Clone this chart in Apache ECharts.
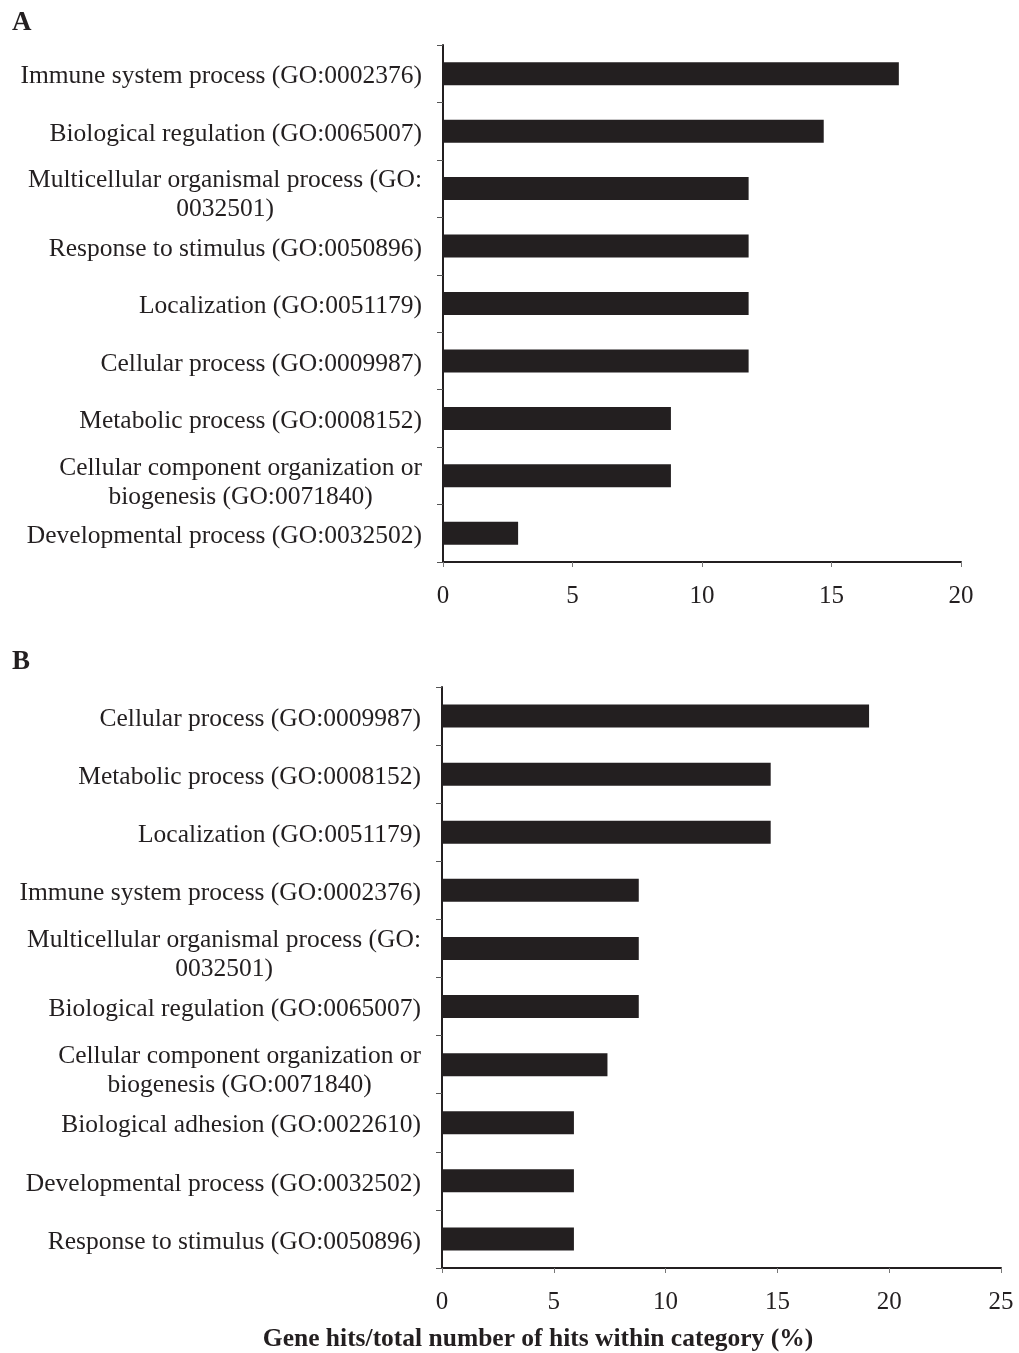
<!DOCTYPE html>
<html>
<head>
<meta charset="utf-8">
<script src="https://cdn.jsdelivr.net/npm/echarts@6/dist/echarts.min.js"></script>
<style>
html,body{margin:0;padding:0;background:#fff;}
#chart{width:1019px;height:1353px;}
</style>
</head>
<body>
<div id="chart"></div>
<script>
// Panel A
var categoriesA = [
  'Immune system process (GO:0002376)',
  'Biological regulation (GO:0065007)',
  'Multicellular organismal process (GO:\n0032501)',
  'Response to stimulus (GO:0050896)',
  'Localization (GO:0051179)',
  'Cellular process (GO:0009987)',
  'Metabolic process (GO:0008152)',
  'Cellular component organization or\nbiogenesis (GO:0071840)',
  'Developmental process (GO:0032502)'
];
var valuesA = [17.6, 14.7, 11.8, 11.8, 11.8, 11.8, 8.8, 8.8, 2.9];

// Panel B
var categoriesB = [
  'Cellular process (GO:0009987)',
  'Metabolic process (GO:0008152)',
  'Localization (GO:0051179)',
  'Immune system process (GO:0002376)',
  'Multicellular organismal process (GO:\n0032501)',
  'Biological regulation (GO:0065007)',
  'Cellular component organization or\nbiogenesis (GO:0071840)',
  'Biological adhesion (GO:0022610)',
  'Developmental process (GO:0032502)',
  'Response to stimulus (GO:0050896)'
];
var valuesB = [19.1, 14.7, 14.7, 8.8, 8.8, 8.8, 7.4, 5.9, 5.9, 5.9];

var ticksA = {min: 0, max: 20, interval: 5};
var ticksB = {min: 0, max: 25, interval: 5};
var panelLetters = ['A', 'B'];
var xTitle = 'Gene hits/total number of hits within category (%)';

var FONT = '"Liberation Serif", "Times New Roman", serif';
var INK = '#231f20';

function catLabel(v) {
  var lines = v.split('\n');
  var body = lines.map(function (s) { return '{c|' + s + '}'; }).join('\n');
  return lines.length > 1 ? '{e| }\n' + body : body;
}

function yAxis(idx, cats) {
  return {
    type: 'category', gridIndex: idx, data: cats, inverse: true,
    axisLine: {show: true, lineStyle: {color: INK, width: 2}},
    axisTick: {show: true, length: 6, lineStyle: {color: '#555', width: 1}},
    axisLabel: {
      interval: 0, margin: 21, formatter: catLabel, padding: [6, 0, 0, 0],
      rich: {
        c: {align: 'center', fontFamily: FONT, fontSize: 25.5, color: INK, lineHeight: 29},
        e: {fontSize: 4, lineHeight: 7}
      }
    }
  };
}
function xAxis(idx, t) {
  return {
    type: 'value', gridIndex: idx, min: t.min, max: t.max, interval: t.interval,
    splitLine: {show: false},
    axisLine: {show: true, lineStyle: {color: INK, width: 2}},
    axisTick: {show: true, length: 5, lineStyle: {color: '#777', width: 1}},
    axisLabel: {margin: 22, fontFamily: FONT, fontSize: 25, color: INK}
  };
}

var chart = echarts.init(document.getElementById('chart'), null, {renderer: 'canvas'});
chart.setOption({
  backgroundColor: '#fff',
  animation: false,
  grid: [
    {left: 443, top: 45, width: 518, height: 517},
    {left: 442, top: 687, width: 559, height: 581}
  ],
  xAxis: [xAxis(0, ticksA), xAxis(1, ticksB)],
  yAxis: [yAxis(0, categoriesA), yAxis(1, categoriesB)],
  series: [
    {type: 'bar', xAxisIndex: 0, yAxisIndex: 0, data: valuesA, barWidth: 23,
     itemStyle: {color: INK}},
    {type: 'bar', xAxisIndex: 1, yAxisIndex: 1, data: valuesB, barWidth: 23,
     itemStyle: {color: INK}}
  ],
  graphic: [
    {type: 'text', x: 12, y: 23, style: {text: panelLetters[0], font: 'bold 27px ' + FONT, fill: INK, verticalAlign: 'middle'}},
    {type: 'text', x: 12, y: 662, style: {text: panelLetters[1], font: 'bold 27px ' + FONT, fill: INK, verticalAlign: 'middle'}},
    {type: 'text', x: 538, y: 1339, style: {text: xTitle, font: 'bold 25.5px ' + FONT, fill: INK, align: 'center', verticalAlign: 'middle'}}
  ]
});
</script>
</body>
</html>
